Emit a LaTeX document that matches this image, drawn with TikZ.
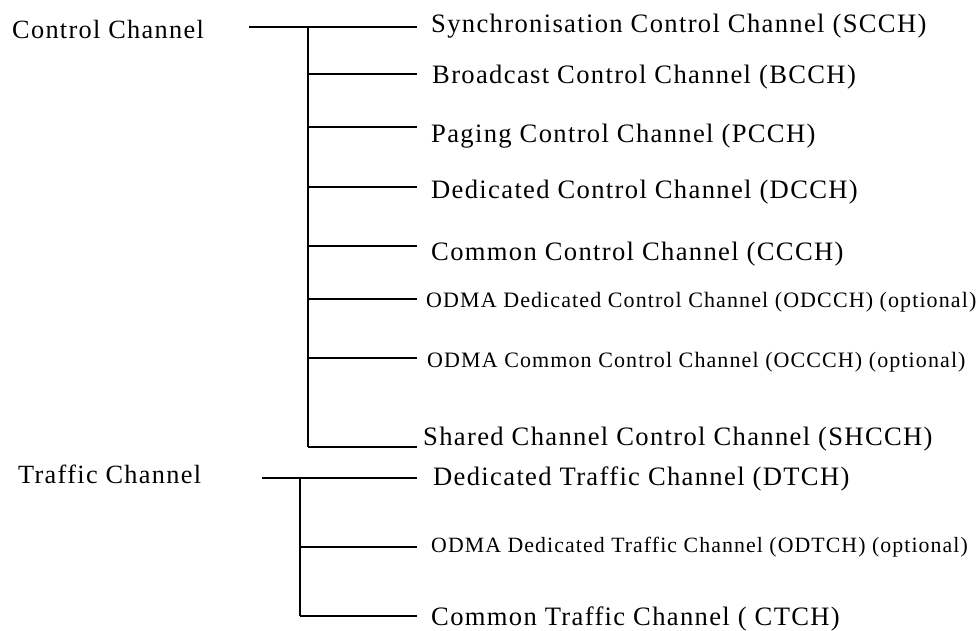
\documentclass[tikz,border=0pt]{standalone}
\usepackage{fontspec}
\setmainfont{Liberation Serif}[LetterSpace=5]

\begin{document}
\begin{tikzpicture}[x=1pt, y=-1pt,
  chan/.style={anchor=base west, inner xsep=14pt, inner ysep=0pt, font=\fontsize{26.6}{30}\selectfont},
  opt/.style={chan, font=\fontsize{22}{26}\selectfont},
  root/.style={anchor=base west, inner sep=0pt, font=\fontsize{26.3}{30}\selectfont},
  thin/.style={line width=1.2pt},
  heavy/.style={line width=2pt}]
\useasboundingbox (0,0) rectangle (977,630);

% control channels
\node [root] (ctl) at (12,38) {Control Channel};
\coordinate (cs) at (249,27);
\coordinate (j1) at (308,27);
\coordinate (j2) at (308,74);
\coordinate (j3) at (308,127);
\coordinate (j4) at (308,187);
\coordinate (j5) at (308,246);
\coordinate (j6) at (308,299);
\coordinate (j7) at (308,358);
\coordinate (j8) at (308,447);
\node [chan] (scch) at (417,32) {Synchronisation Control Channel (SCCH)};
\node [chan, inner xsep=15pt] (bcch) at (417,83) {Broadcast Control Channel (BCCH)};
\node [chan] (pcch) at (417,142) {Paging Control Channel (PCCH)};
\node [chan] (dcch) at (417,198) {Dedicated Control Channel (DCCH)};
\node [chan] (ccch) at (417,260) {Common Control Channel (CCCH)};
\node [opt, inner xsep=9pt] (odcch) at (417,307) {ODMA Dedicated Control Channel (ODCCH) (optional)};
\node [opt, inner xsep=10pt] (occch) at (417,367) {ODMA Common Control Channel (OCCCH) (optional)};
\node [chan, inner xsep=6pt] (shcch) at (417,445) {Shared Channel Control Channel (SHCCH)};
\draw [thin] (cs) -- (j1) -- (scch.west |- j1);
\draw [thin] (j1) -- (j4);
\draw [heavy] (j4) -- (j5);
\draw [thin] (j5) -- (j7);
\draw [heavy] (j7) -- (j8);
\draw [thin] (j2) -- (bcch.west |- j2);
\draw [thin] (j3) -- (pcch.west |- j3);
\draw [thin] (j4) -- (dcch.west |- j4);
\draw [heavy] (j5) -- (ccch.west |- j5);
\draw [thin] (j6) -- (odcch.west |- j6);
\draw [thin] (j7) -- (occch.west |- j7);
\draw [heavy] (j8) -- (shcch.west |- j8);

% traffic channels
\node [root] (trf) at (18,483) {Traffic Channel};
\coordinate (ts) at (262,478);
\coordinate (t1) at (300,478);
\coordinate (t2) at (300,547);
\coordinate (t3) at (300,616);
\node [chan, inner xsep=16pt] (dtch) at (417,485) {Dedicated Traffic Channel (DTCH)};
\node [opt, inner xsep=14pt, font=\fontsize{21.8}{26}\selectfont] (odtch) at (417,552) {ODMA Dedicated Traffic Channel (ODTCH) (optional)};
\node [chan] (ctch) at (417,625) {Common Traffic Channel ( CTCH)};
\draw [thin] (ts) -- (t1) -- (dtch.west |- t1);
\draw [thin] (t1) -- (t3);
\draw [thin] (t2) -- (odtch.west |- t2);
\draw [thin] (t3) -- (ctch.west |- t3);
\end{tikzpicture}
\end{document}
